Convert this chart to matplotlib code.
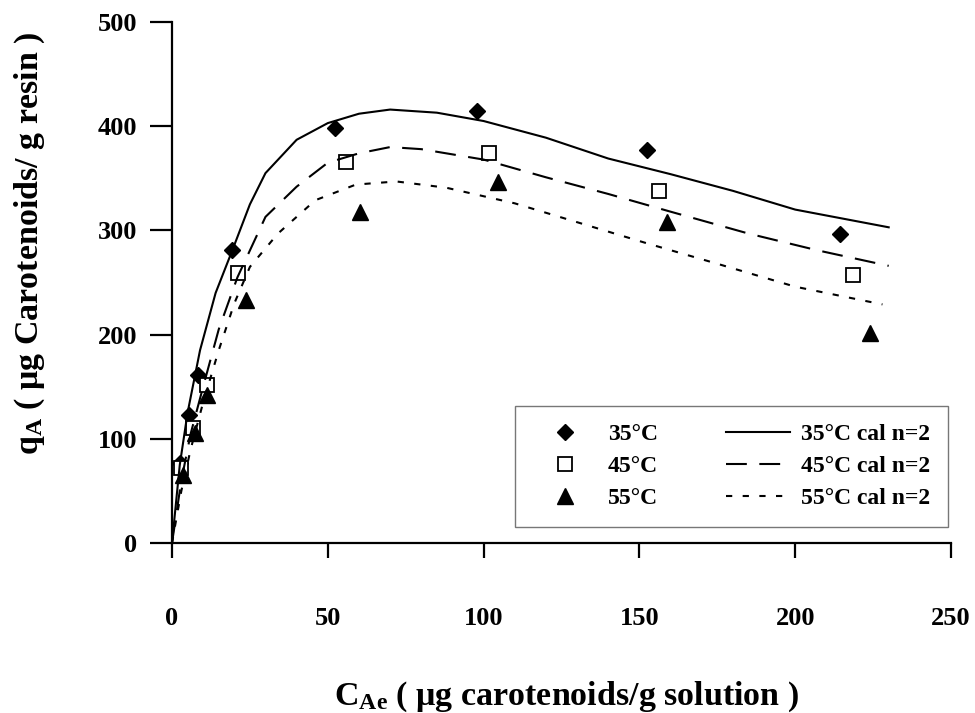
import numpy as np
import matplotlib
matplotlib.use("Agg")
import matplotlib.pyplot as plt

plt.rcParams['font.family'] = ['Liberation Serif', 'DejaVu Serif']
plt.rcParams['font.weight'] = 'bold'
plt.rcParams['axes.labelweight'] = 'bold'
plt.rcParams['mathtext.fontset'] = 'custom'
plt.rcParams['mathtext.rm'] = 'Liberation Serif:bold'
plt.rcParams['mathtext.it'] = 'Liberation Serif:italic:bold'
plt.rcParams['mathtext.bf'] = 'Liberation Serif:bold'

# datos experimentales
x35 = [2.6, 5.5, 8.4, 19.3, 52.3, 97.9, 152.4, 214.4]
y35 = [77, 123, 161, 281, 398, 415, 377, 297]
x45 = [3.0, 6.7, 11.2, 21.2, 55.8, 101.7, 156.3, 218.5]
y45 = [72, 110, 152, 259, 366, 374, 338, 257]
x55 = [3.5, 7.4, 11.2, 23.7, 60.3, 104.6, 158.9, 224.0]
y55 = [65, 106, 142, 233, 318, 346, 308, 202]

# curvas calculadas n=2
xc35 = [0, 2.5, 5, 9, 14, 19.5, 25, 30, 40, 50, 60, 70, 85, 100, 120, 140, 160, 180, 200, 230]
yc35 = [0, 75, 125, 185, 240, 282, 325, 355, 387, 403, 412, 416, 413, 405, 389, 369, 354, 338, 320, 303]
xc45 = [0, 3, 6, 10, 15, 21, 30, 40, 50, 60, 70, 80, 100, 120, 140, 160, 185, 207, 230]
yc45 = [0, 60, 105, 150, 205, 255, 313, 342, 365, 374, 380, 378, 368, 351, 335, 318, 297, 281, 266]
xc55 = [0, 3, 6, 10, 15, 20, 25, 34, 46, 59, 72, 88, 110, 131, 152, 175, 200, 228]
yc55 = [0, 50, 90, 135, 185, 230, 265, 297, 329, 344, 347, 341, 326, 307, 288, 268, 246, 229]

fig = plt.figure(figsize=(9.75, 7.13), dpi=100)
ax = fig.add_axes([0.1764, 0.2384, 0.799, 0.7307])

h1, = ax.plot(x35, y35, 'D', color='black', ms=8, linestyle='none', label='35°C')
h2, = ax.plot(x45, y45, 's', mfc='white', mec='black', mew=1.3, ms=10.5, linestyle='none', label='45°C')
h3, = ax.plot(x55, y55, '^', color='black', ms=11, linestyle='none', label='55°C')
h4, = ax.plot(xc35, yc35, '-', color='black', lw=1.5, label='35°C cal n=2')
h5, = ax.plot(xc45, yc45, color='black', lw=1.5, dashes=(10, 6), label='45°C cal n=2')
h6, = ax.plot(xc55, yc55, color='black', lw=1.5, dashes=(3, 5), label='55°C cal n=2')

ax.set_xlim(0, 250)
ax.set_ylim(0, 500)
ax.set_xticks([0, 50, 100, 150, 200, 250])
ax.set_yticks([0, 100, 200, 300, 400, 500])
for s in ['top', 'right']:
    ax.spines[s].set_visible(False)
for s in ['left', 'bottom']:
    ax.spines[s].set_linewidth(1.6)
ax.tick_params(axis='x', direction='out', length=11, width=1.6, pad=35, labelsize=19)
ax.tick_params(axis='y', direction='out', length=16, width=1.6, pad=9, labelsize=19)

ax.set_xlabel(r'C$_{\mathrm{Ae}}$ ( μg carotenoids/g solution )', fontsize=24.5)
ax.set_ylabel(r'q$_{\mathrm{A}}$ ( μg Carotenoids/ g resin )', fontsize=24.5)
ax.xaxis.set_label_coords(0.507, -0.262)
ax.yaxis.set_label_coords(-0.16, 0.576)

leg = ax.legend(handles=[h1, h2, h3, h4, h5, h6], ncol=2,
                loc='lower left', bbox_to_anchor=(0.44, 0.031, 0.556, 0.234),
                mode='expand', borderaxespad=0, fontsize=17, handlelength=2.75,
                handletextpad=0.45, labelspacing=0.45, borderpad=0.75,
                frameon=True, fancybox=False)
leg.get_frame().set_edgecolor('#555555')
leg.get_frame().set_linewidth(1.0)

fig.savefig('out.png', dpi=100)
